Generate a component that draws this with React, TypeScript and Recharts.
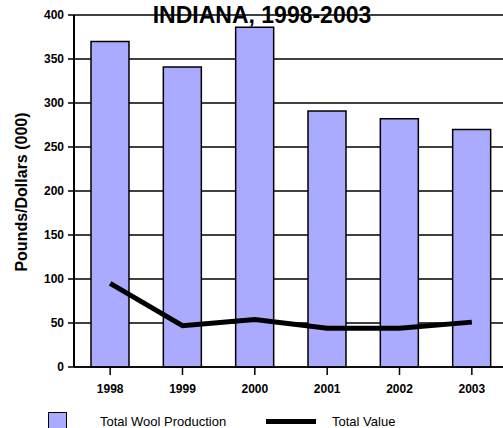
import { ComposedChart, Bar, Line, XAxis, YAxis, CartesianGrid } from "recharts";

const years = ["1998", "1999", "2000", "2001", "2002", "2003"];
const woolProduction = [370, 341, 386, 291, 282, 270];
const totalValue = [95, 47, 54, 44, 44, 51];
const yTicks = [0, 50, 100, 150, 200, 250, 300, 350, 400];

const data = years.map((y, i) => ({
  year: y,
  wool: woolProduction[i],
  value: totalValue[i],
}));

const font = "Arial, 'Liberation Sans', sans-serif";

// y axis title, rotated next to the ticks
const renderYLabel = () => {
  const cx = 21;
  const cy = 192;
  return (
    <text
      x={cx}
      y={cy}
      transform={`rotate(-90, ${cx}, ${cy})`}
      textAnchor="middle"
      dominantBaseline="central"
      fill="#000"
      fontSize={16}
      fontWeight={900}
      fontFamily={font}
    >
      Pounds/Dollars (000)
    </text>
  );
};

const App = () => {
  return (
    <div style={{ position: "absolute", left: 0, top: 0, width: 503, height: 428, overflow: "hidden", fontFamily: font }}>
      <ComposedChart
        width={520}
        height={428}
        data={data}
        margin={{ top: 15, right: 12, bottom: 31, left: 0 }}
      >
        <CartesianGrid vertical={false} stroke="#000" strokeWidth={1.5} />
        <XAxis
          dataKey="year"
          height={30}
          axisLine={{ stroke: "#000", strokeWidth: 1.5 }}
          tickLine={{ stroke: "#000", strokeWidth: 1.5 }}
          tickSize={8}
          tickMargin={9}
          tick={{ fill: "#000", fontSize: 12, fontWeight: "bold", fontFamily: font }}
        />
        <YAxis
          width={74}
          domain={[0, 400]}
          ticks={yTicks}
          interval={0}
          axisLine={{ stroke: "#000", strokeWidth: 2 }}
          tickLine={{ stroke: "#000", strokeWidth: 1.5 }}
          tickSize={6}
          tickMargin={4}
          tick={{ fill: "#000", fontSize: 12, fontWeight: "bold", fontFamily: font }}
          label={{ content: renderYLabel }}
        />
        <Bar
          dataKey="wool"
          barSize={38}
          fill="#AAAAFF"
          stroke="#000"
          strokeWidth={1.5}
          isAnimationActive={false}
        />
        <Line
          dataKey="value"
          type="linear"
          stroke="#000"
          strokeWidth={5}
          dot={false}
          isAnimationActive={false}
        />
      </ComposedChart>
      <div
        style={{
          position: "absolute",
          left: 0,
          width: 524,
          top: 2,
          textAlign: "center",
          fontSize: 23,
          fontWeight: "bold",
          lineHeight: "26px",
          color: "#000",
        }}
      >
        INDIANA, 1998-2003
      </div>
      <div style={{ position: "absolute", left: 48, top: 412, width: 19, height: 19, background: "#AAAAFF", border: "1.5px solid #000", boxSizing: "border-box" }} />
      <div style={{ position: "absolute", left: 100, top: 414, fontSize: 13, lineHeight: "16px", color: "#000" }}>Total Wool Production</div>
      <div style={{ position: "absolute", left: 266, top: 419, width: 50, height: 5, background: "#000" }} />
      <div style={{ position: "absolute", left: 332, top: 414, fontSize: 13, lineHeight: "16px", color: "#000" }}>Total Value</div>
    </div>
  );
};

export default App;
